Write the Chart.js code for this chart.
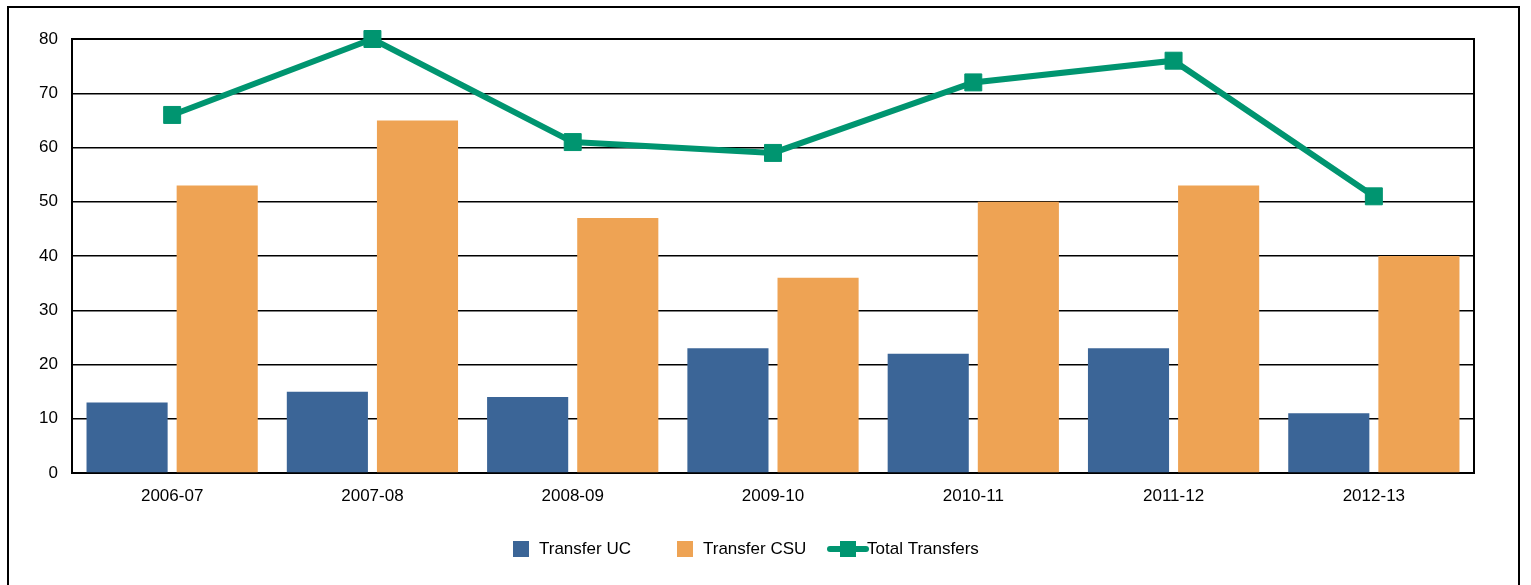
<!DOCTYPE html>
<html>
<head>
<meta charset="utf-8">
<script src="https://cdn.jsdelivr.net/npm/chart.js@4.4.1/dist/chart.umd.min.js"></script>
<style>
    html, body { margin: 0; padding: 0; background: #fff; overflow: hidden; }
    #wrap { position: relative; width: 1531px; height: 585px; }
    #frame { position: absolute; left: 7px; top: 6px; width: 1513px; height: 600px; border: 2px solid #000; box-sizing: border-box; }
    #chart { position: absolute; left: 0; top: 0; }
</style>
</head>
<body>
<div id="wrap">
    <div id="frame"></div>
    <canvas id="chart" width="1531" height="585"></canvas>
</div>
<script>
const years = ['2006-07', '2007-08', '2008-09', '2009-10', '2010-11', '2011-12', '2012-13'];
const transferUC = [13, 15, 14, 23, 22, 23, 11];
const transferCSU = [53, 65, 47, 36, 50, 53, 40];
const totalTransfers = [66, 80, 61, 59, 72, 76, 51];

const blue = '#3B6597';
const orange = '#EEA354';
const green = '#009570';
const font = 'Liberation Sans, Arial, sans-serif';

// border round the plot area
const frameBox = {
    id: 'frameBox',
    beforeDatasetsDraw(chart) {
        const { ctx, chartArea: a } = chart;
        ctx.save();
        ctx.strokeStyle = '#000';
        ctx.lineWidth = 2;
        ctx.strokeRect(a.left, a.top, a.right - a.left, a.bottom - a.top);
        ctx.restore();
    }
};

// legend under the chart, drawn by hand to get the line+square sample
const bottomLegend = {
    id: 'bottomLegend',
    afterDraw(chart) {
        const ctx = chart.ctx;
        const y = 549;
        ctx.save();
        ctx.font = '17px ' + font;
        ctx.textBaseline = 'middle';

        ctx.fillStyle = blue;
        ctx.fillRect(513, y - 8, 16, 16);
        ctx.fillStyle = '#000';
        ctx.fillText(chart.data.datasets[1].label, 539, y);

        ctx.fillStyle = orange;
        ctx.fillRect(677, y - 8, 16, 16);
        ctx.fillStyle = '#000';
        ctx.fillText(chart.data.datasets[2].label, 703, y);

        ctx.strokeStyle = green;
        ctx.lineWidth = 6;
        ctx.lineCap = 'round';
        ctx.beginPath();
        ctx.moveTo(830, y);
        ctx.lineTo(866, y);
        ctx.stroke();
        ctx.fillStyle = green;
        ctx.fillRect(840, y - 8, 16, 16);
        ctx.fillStyle = '#000';
        ctx.fillText(chart.data.datasets[0].label, 867, y);
        ctx.restore();
    }
};

new Chart(document.getElementById('chart').getContext('2d'), {
    type: 'bar',
    data: {
        labels: years,
        datasets: [
            {
                type: 'line',
                label: 'Total Transfers',
                data: totalTransfers,
                borderColor: green,
                backgroundColor: green,
                borderWidth: 6,
                pointStyle: 'rect',
                pointRadius: 12,
                pointBorderWidth: 1,
                pointBackgroundColor: green,
                pointBorderColor: green,
                tension: 0,
                clip: false,
                order: 0
            },
            {
                label: 'Transfer UC',
                data: transferUC,
                backgroundColor: blue,
                categoryPercentage: 0.9,
                barPercentage: 0.9,
                order: 1
            },
            {
                label: 'Transfer CSU',
                data: transferCSU,
                backgroundColor: orange,
                categoryPercentage: 0.9,
                barPercentage: 0.9,
                order: 1
            }
        ]
    },
    options: {
        responsive: false,
        animation: false,
        layout: { padding: { left: 0, right: 57, top: 39, bottom: 0 } },
        plugins: {
            legend: { display: false },
            tooltip: { enabled: false }
        },
        scales: {
            x: {
                grid: { display: false, drawTicks: false },
                border: { color: '#000', width: 2 },
                ticks: { color: '#000', font: { family: font, size: 17 }, padding: 13, maxRotation: 0 },
                afterFit(scale) { scale.height = 112; }
            },
            y: {
                min: 0,
                max: 80,
                grid: { color: '#000', lineWidth: 1.5, drawTicks: false },
                border: { color: '#000', width: 2 },
                ticks: { stepSize: 10, color: '#000', font: { family: font, size: 17 }, padding: 14 },
                afterFit(scale) { scale.width = 72; }
            }
        }
    },
    plugins: [frameBox, bottomLegend]
});
</script>
</body>
</html>
